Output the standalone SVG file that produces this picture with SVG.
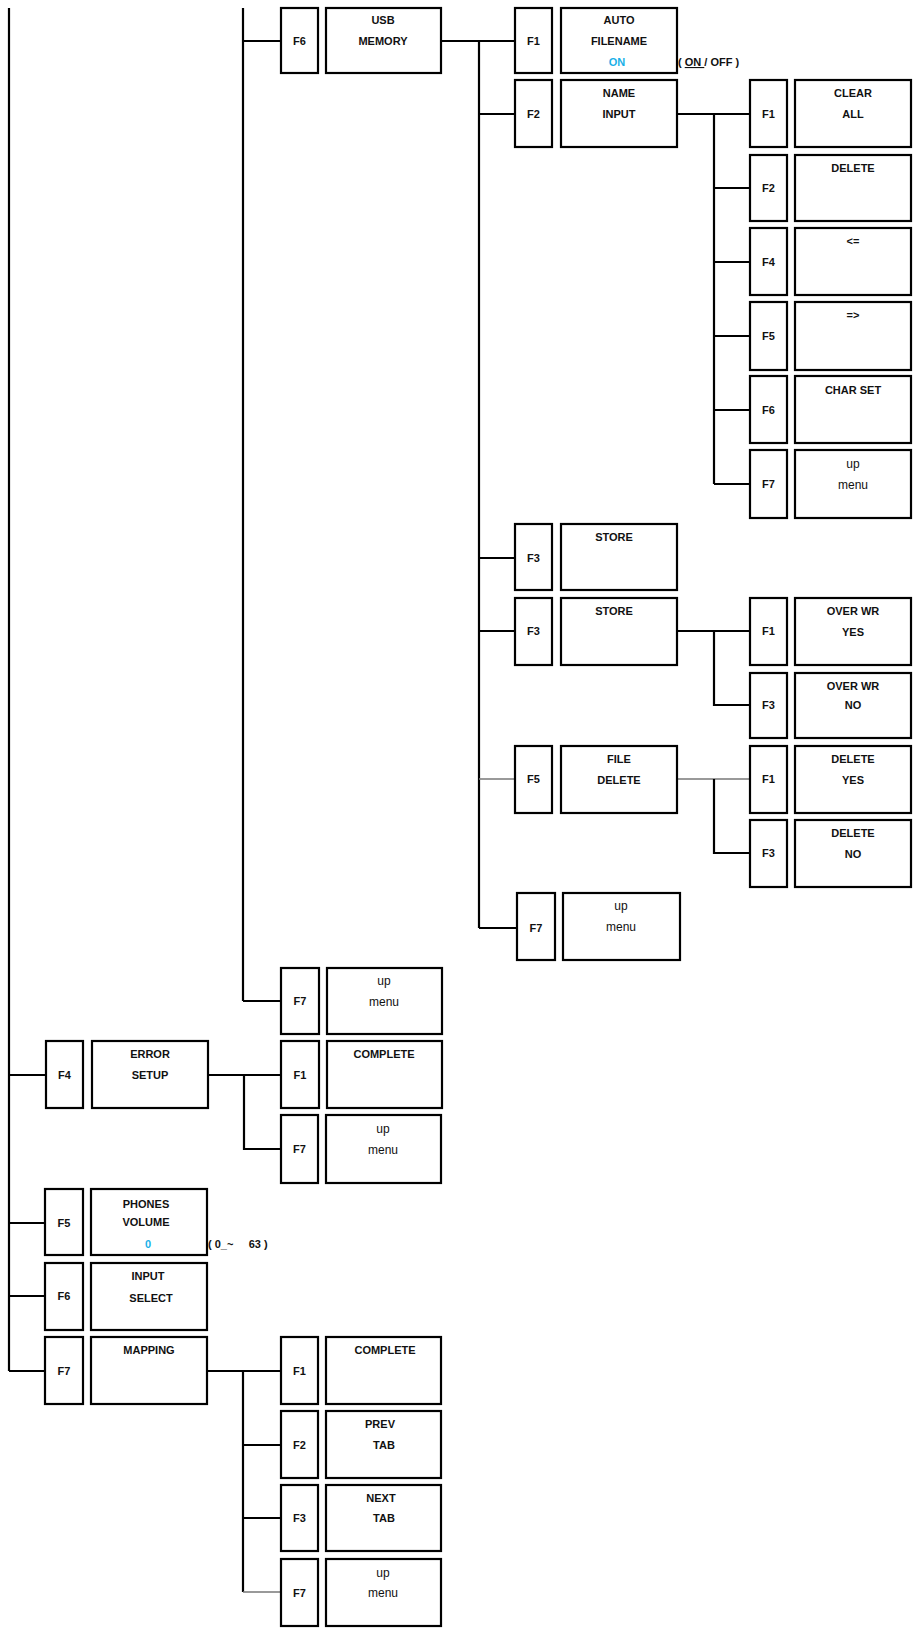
<svg xmlns="http://www.w3.org/2000/svg" width="917" height="1628" viewBox="0 0 917 1628">
<style>
rect{fill:#fff;stroke:#000;stroke-width:2.2}
text{font-family:"Liberation Sans",Arial,sans-serif;font-size:11px;font-weight:bold;text-anchor:middle;fill:#111}
.r{font-weight:normal;font-size:12px}
.c{fill:#1ab0e8}
.l{text-anchor:start}
#conn path{fill:none;stroke:#000;stroke-width:2.2}
#conn path.g{stroke:#777;stroke-width:1.4}
</style>
<rect x="0" y="0" width="917" height="1628" style="fill:#fff;stroke:none"/>
<g id="conn">
<path d="M9 8V1371M9 1075H46M9 1223H45M9 1296H45M9 1371H45"/>
<path d="M243 8V1001M243 41H281M243 1001H281"/>
<path d="M441 41H515M479 41V928M479 114H515M479 558H515M479 631H515M479 928H517"/>
<path class="g" d="M479 779H515"/>
<path d="M677 114H750M714 114V484M714 188H750M714 262H750M714 336H750M714 410H750M714 484H750"/>
<path d="M677 631H750M714 631V705H750"/>
<path class="g" d="M677 779H750"/>
<path d="M714 779V853H750"/>
<path d="M208 1075H281M244 1075V1149H281"/>
<path d="M207 1371H281M243 1371V1592"/>
<path d="M243 1445H281M243 1518H281"/>
<path class="g" d="M243 1592H281"/>
</g>
<g id="usb"><rect x="281" y="8" width="37" height="65"/><text x="299.5" y="45">F6</text><rect x="326" y="8" width="115" height="65"/><text x="383" y="24">USB</text><text x="383" y="45">MEMORY</text></g>
<g id="autofn"><rect x="515" y="8" width="37" height="65"/><text x="533.5" y="45">F1</text><rect x="561" y="8" width="116" height="65"/><text x="619" y="24">AUTO</text><text x="619" y="45">FILENAME</text><text x="617" y="66" class="c">ON</text><text x="678" y="66" class="l">( <tspan text-decoration="underline">ON </tspan>/ OFF )</text></g>
<g id="nameinput"><rect x="515" y="80" width="37" height="67"/><text x="533.5" y="118">F2</text><rect x="561" y="80" width="116" height="67"/><text x="619" y="97">NAME</text><text x="619" y="118">INPUT</text></g>
<g id="clearall"><rect x="750" y="80" width="37" height="67"/><text x="768.5" y="118">F1</text><rect x="795" y="80" width="116" height="67"/><text x="853" y="97">CLEAR</text><text x="853" y="118">ALL</text></g>
<g id="delete"><rect x="750" y="155" width="37" height="66"/><text x="768.5" y="192">F2</text><rect x="795" y="155" width="116" height="66"/><text x="853" y="172">DELETE</text></g>
<g id="left"><rect x="750" y="228" width="37" height="67"/><text x="768.5" y="266">F4</text><rect x="795" y="228" width="116" height="67"/><text x="853" y="245">&lt;=</text></g>
<g id="right"><rect x="750" y="302" width="37" height="68"/><text x="768.5" y="340">F5</text><rect x="795" y="302" width="116" height="68"/><text x="853" y="319">=&gt;</text></g>
<g id="charset"><rect x="750" y="376" width="37" height="67"/><text x="768.5" y="414">F6</text><rect x="795" y="376" width="116" height="67"/><text x="853" y="394">CHAR SET</text></g>
<g id="upmenu4"><rect x="750" y="450" width="37" height="68"/><text x="768.5" y="488">F7</text><rect x="795" y="450" width="116" height="68"/><text x="853" y="468" class="r">up</text><text x="853" y="489" class="r">menu</text></g>
<g id="store1"><rect x="515" y="524" width="37" height="66"/><text x="533.5" y="562">F3</text><rect x="561" y="524" width="116" height="66"/><text x="614" y="541">STORE</text></g>
<g id="store2"><rect x="515" y="598" width="37" height="67"/><text x="533.5" y="635">F3</text><rect x="561" y="598" width="116" height="67"/><text x="614" y="615">STORE</text></g>
<g id="owyes"><rect x="750" y="598" width="37" height="67"/><text x="768.5" y="635">F1</text><rect x="795" y="598" width="116" height="67"/><text x="853" y="615">OVER WR</text><text x="853" y="636">YES</text></g>
<g id="owno"><rect x="750" y="673" width="37" height="65"/><text x="768.5" y="709">F3</text><rect x="795" y="673" width="116" height="65"/><text x="853" y="690">OVER WR</text><text x="853" y="709">NO</text></g>
<g id="filedelete"><rect x="515" y="746" width="37" height="67"/><text x="533.5" y="783">F5</text><rect x="561" y="746" width="116" height="67"/><text x="619" y="763">FILE</text><text x="619" y="784">DELETE</text></g>
<g id="delyes"><rect x="750" y="746" width="37" height="67"/><text x="768.5" y="783">F1</text><rect x="795" y="746" width="116" height="67"/><text x="853" y="763">DELETE</text><text x="853" y="784">YES</text></g>
<g id="delno"><rect x="750" y="820" width="37" height="67"/><text x="768.5" y="857">F3</text><rect x="795" y="820" width="116" height="67"/><text x="853" y="837">DELETE</text><text x="853" y="858">NO</text></g>
<g id="upmenu3"><rect x="517" y="893" width="38" height="67"/><text x="536" y="932">F7</text><rect x="563" y="893" width="117" height="67"/><text x="621" y="910" class="r">up</text><text x="621" y="931" class="r">menu</text></g>
<g id="upmenu2"><rect x="281" y="968" width="38" height="66"/><text x="300" y="1005">F7</text><rect x="327" y="968" width="115" height="66"/><text x="384" y="985" class="r">up</text><text x="384" y="1006" class="r">menu</text></g>
<g id="errorsetup"><rect x="46" y="1041" width="37" height="67"/><text x="64.5" y="1079">F4</text><rect x="92" y="1041" width="116" height="67"/><text x="150" y="1058">ERROR</text><text x="150" y="1079">SETUP</text></g>
<g id="complete1"><rect x="281" y="1041" width="38" height="67"/><text x="300" y="1079">F1</text><rect x="327" y="1041" width="115" height="67"/><text x="384" y="1058">COMPLETE</text></g>
<g id="upmenu5"><rect x="281" y="1115" width="37" height="68"/><text x="299.5" y="1153">F7</text><rect x="326" y="1115" width="115" height="68"/><text x="383" y="1133" class="r">up</text><text x="383" y="1154" class="r">menu</text></g>
<g id="phones"><rect x="45" y="1189" width="38" height="66"/><text x="64" y="1227">F5</text><rect x="91" y="1189" width="116" height="66"/><text x="146" y="1208">PHONES</text><text x="146" y="1226">VOLUME</text><text x="148" y="1248" class="c">0</text><text x="208" y="1248" class="l">( 0_~&#160;&#160;&#160;&#160; 63 )</text></g>
<g id="inputselect"><rect x="45" y="1263" width="38" height="67"/><text x="64" y="1300">F6</text><rect x="91" y="1263" width="116" height="67"/><text x="148" y="1280">INPUT</text><text x="151" y="1302">SELECT</text></g>
<g id="mapping"><rect x="45" y="1337" width="38" height="67"/><text x="64" y="1375">F7</text><rect x="91" y="1337" width="116" height="67"/><text x="149" y="1354">MAPPING</text></g>
<g id="complete2"><rect x="281" y="1337" width="37" height="67"/><text x="299.5" y="1375">F1</text><rect x="326" y="1337" width="115" height="67"/><text x="385" y="1354">COMPLETE</text></g>
<g id="prevtab"><rect x="281" y="1411" width="37" height="67"/><text x="299.5" y="1449">F2</text><rect x="326" y="1411" width="115" height="67"/><text x="380" y="1428">PREV</text><text x="384" y="1449">TAB</text></g>
<g id="nexttab"><rect x="281" y="1485" width="37" height="66"/><text x="299.5" y="1522">F3</text><rect x="326" y="1485" width="115" height="66"/><text x="381" y="1502">NEXT</text><text x="384" y="1522">TAB</text></g>
<g id="upmenu6"><rect x="281" y="1559" width="37" height="67"/><text x="299.5" y="1597">F7</text><rect x="326" y="1559" width="115" height="67"/><text x="383" y="1577" class="r">up</text><text x="383" y="1597" class="r">menu</text></g>
</svg>
